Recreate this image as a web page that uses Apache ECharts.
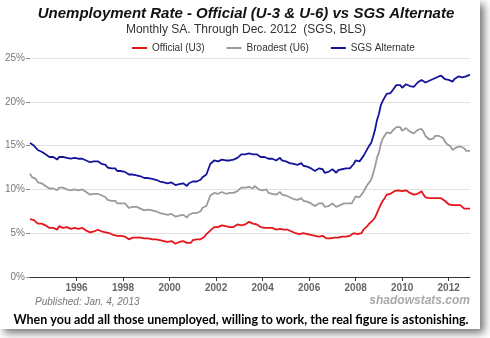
<!DOCTYPE html>
<html>
<head>
<meta charset="utf-8">
<script src="https://cdn.jsdelivr.net/npm/echarts@6/dist/echarts.min.js"></script>
<style>
html,body{margin:0;padding:0;background:#fff;}
#c{width:490px;height:338px;}
</style>
</head>
<body>
<div id="c"></div>
<script>
// Years covered (monthly data, Jan 1994 - Dec 2012)
const years = [1994,1995,1996,1997,1998,1999,2000,2001,2002,2003,2004,2005,2006,2007,2008,2009,2010,2011,2012];
const monthNames = ['01','02','03','04','05','06','07','08','09','10','11','12'];
const yTicks = [0,5,10,15,20,25];
const seriesNames = ['Official (U3)','Broadest (U6)','SGS Alternate'];

// Official (U3), % monthly SA
const u3 = [
 6.6,6.6,6.5,6.4,6.1,6.1,6.1,6.0,5.9,5.8,5.6,5.5,
 5.6,5.4,5.4,5.8,5.6,5.6,5.7,5.7,5.6,5.5,5.6,5.6,
 5.6,5.5,5.5,5.6,5.6,5.3,5.5,5.1,5.2,5.2,5.4,5.4,
 5.3,5.2,5.2,5.1,4.9,5.0,4.9,4.8,4.9,4.7,4.6,4.7,
 4.6,4.6,4.7,4.3,4.4,4.5,4.5,4.5,4.6,4.5,4.4,4.4,
 4.3,4.4,4.2,4.3,4.2,4.3,4.3,4.2,4.2,4.1,4.1,4.0,
 4.0,4.1,4.0,3.8,4.0,4.0,4.0,4.1,3.9,3.9,3.9,3.9,
 4.2,4.2,4.3,4.4,4.3,4.5,4.6,4.9,5.0,5.3,5.5,5.7,
 5.7,5.7,5.7,5.9,5.8,5.8,5.8,5.7,5.7,5.7,5.9,6.0,
 5.8,5.9,5.9,6.0,6.1,6.3,6.2,6.1,6.1,6.0,5.8,5.7,
 5.7,5.6,5.8,5.6,5.6,5.6,5.5,5.4,5.4,5.5,5.4,5.4,
 5.3,5.4,5.2,5.2,5.1,5.0,5.0,4.9,5.0,5.0,5.0,4.9,
 4.7,4.8,4.7,4.7,4.6,4.6,4.7,4.7,4.5,4.4,4.5,4.4,
 4.6,4.5,4.4,4.5,4.4,4.6,4.7,4.6,4.7,4.7,4.7,5.0,
 5.0,4.9,5.1,5.0,5.4,5.6,5.8,6.1,6.1,6.5,6.8,7.3,
 7.8,8.3,8.7,9.0,9.4,9.5,9.5,9.6,9.8,10.0,9.9,9.9,
 9.8,9.8,9.9,9.9,9.6,9.4,9.4,9.5,9.5,9.4,9.8,9.4,
 9.1,9.0,9.0,9.1,9.0,9.1,9.0,9.0,9.0,8.9,8.7,8.5,
 8.3,8.3,8.2,8.2,8.2,8.2,8.2,8.1,7.8,7.9,7.8,7.8
];

// Broadest (U6), % monthly SA
const u6 = [
 11.8,11.4,11.4,11.2,10.8,10.9,10.7,10.5,10.4,10.3,10.1,10.0,
 10.1,9.9,9.9,10.2,10.2,10.2,10.2,10.0,10.1,9.9,10.0,10.0,
 9.9,9.9,10.0,10.0,9.8,9.7,9.7,9.4,9.4,9.5,9.5,9.5,
 9.4,9.3,9.2,9.1,8.8,8.9,8.7,8.6,8.7,8.4,8.3,8.4,
 8.4,8.4,8.4,7.9,7.9,8.0,8.1,8.0,7.9,7.8,7.6,7.6,
 7.7,7.7,7.5,7.6,7.4,7.5,7.5,7.3,7.4,7.2,7.1,7.1,
 7.1,7.2,7.1,6.9,7.1,7.0,7.0,7.1,7.0,6.8,7.1,6.9,
 7.3,7.4,7.3,7.4,7.5,7.9,7.8,8.1,8.7,9.3,9.4,9.6,
 9.5,9.5,9.4,9.7,9.5,9.5,9.6,9.6,9.6,9.6,9.7,9.8,
 10.0,10.2,10.0,10.2,10.1,10.3,10.3,10.1,10.4,10.2,10.0,9.8,
 9.9,9.7,10.0,9.6,9.6,9.5,9.5,9.4,9.4,9.7,9.4,9.2,
 9.3,9.3,9.1,8.9,8.9,9.0,8.8,8.9,9.0,8.7,8.7,8.6,
 8.4,8.4,8.2,8.1,8.2,8.4,8.5,8.4,8.0,8.2,8.1,7.9,
 8.4,8.2,8.0,8.2,8.2,8.3,8.4,8.4,8.4,8.4,8.4,8.8,
 9.2,9.0,9.1,9.2,9.7,10.1,10.5,10.8,11.1,11.8,12.6,13.6,
 14.2,15.2,15.8,15.9,16.5,16.5,16.4,16.7,16.7,17.1,17.1,17.1,
 16.7,16.9,17.0,17.0,16.6,16.4,16.4,16.5,16.8,16.8,16.9,16.6,
 16.1,15.9,15.7,15.9,15.8,16.1,16.0,16.1,16.3,15.9,15.5,15.2,
 15.1,14.9,14.5,14.5,14.8,14.8,14.9,14.7,14.7,14.4,14.4,14.4
];

// SGS Alternate, % monthly
const sgs = [
 15.3,15.1,15.0,14.8,14.5,14.5,14.3,14.1,14.0,13.9,13.7,13.6,
 13.7,13.5,13.4,13.7,13.6,13.7,13.6,13.6,13.7,13.5,13.6,13.6,
 13.5,13.5,13.6,13.5,13.4,13.3,13.4,13.1,13.1,13.2,13.1,13.2,
 13.0,12.9,12.9,12.8,12.5,12.6,12.4,12.3,12.4,12.1,12.0,12.1,
 12.0,12.0,12.0,11.7,11.6,11.7,11.8,11.6,11.5,11.5,11.3,11.3,
 11.3,11.3,11.1,11.2,11.0,11.1,11.1,10.9,11.0,10.8,10.7,10.7,
 10.7,10.8,10.7,10.5,10.7,10.6,10.6,10.7,10.6,10.4,10.7,10.5,
 10.9,11.0,10.9,11.0,11.1,11.4,11.4,11.7,12.3,12.9,13.1,13.3,
 13.2,13.2,13.1,13.4,13.2,13.3,13.3,13.3,13.3,13.4,13.5,13.6,
 13.8,14.0,13.8,14.0,13.9,14.1,14.1,14.0,14.2,14.0,13.9,13.7,
 13.8,13.7,13.9,13.5,13.5,13.5,13.4,13.3,13.3,13.6,13.3,13.1,
 13.2,13.2,13.0,12.9,12.9,13.0,12.8,12.9,13.0,12.7,12.6,12.6,
 12.4,12.4,12.2,12.1,12.2,12.4,12.5,12.3,11.9,12.1,12.0,11.8,
 12.3,12.1,11.9,12.2,12.2,12.3,12.4,12.4,12.4,12.4,12.5,12.9,
 13.3,13.1,13.2,13.3,13.8,14.2,14.6,15.0,15.3,16.0,16.8,17.9,
 18.6,19.6,20.1,20.3,20.9,21.0,21.0,21.3,21.4,21.9,22.0,21.9,
 21.6,21.8,22.0,22.1,21.8,21.6,21.7,21.9,22.2,22.3,22.5,22.3,
 22.2,22.3,22.4,22.6,22.6,22.8,22.8,23.0,23.0,22.8,22.6,22.6,
 22.5,22.6,22.3,22.6,22.8,22.9,22.9,22.8,22.9,22.9,23.0,23.1
];

const categories = [];
years.forEach(y => monthNames.forEach(m => categories.push(y + '-' + m)));

function isLabelMonth(idx) {
  const c = categories[idx];
  const y = parseInt(c.slice(0,4), 10);
  return c.slice(5) === '01' && y >= 1996 && y % 2 === 0;
}

const chart = echarts.init(document.getElementById('c'), null, {renderer:'canvas'});
chart.setOption({
  animation: false,
  backgroundColor: 'transparent',
  title: {
    text: 'Unemployment Rate - Official (U-3 & U-6) vs SGS Alternate',
    subtext: 'Monthly SA. Through Dec. 2012  (SGS, BLS)',
    left: 241, top: 1, textAlign: 'center', itemGap: 3,
    textStyle: {fontFamily:'Liberation Sans, Arial', fontSize:15, fontWeight:'bold', fontStyle:'italic', color:'#111'},
    subtextStyle: {fontFamily:'Liberation Sans, Arial', fontSize:12, color:'#333'}
  },
  legend: {
    left: 127, top: 38,
    itemWidth: 15, itemHeight: 2, itemGap: 22,
    icon: 'rect',
    textStyle: {fontFamily:'Liberation Sans, Arial', fontSize:10, color:'#333'},
    data: seriesNames
  },
  grid: {left: 30, right: 20, top: 58, bottom: 61, containLabel: false},
  xAxis: {
    type: 'category', data: categories, boundaryGap: false,
    axisLine: {lineStyle: {color:'#333', width:1}},
    axisTick: {interval: (i) => isLabelMonth(i), length: 4, lineStyle:{color:'#333'}},
    axisLabel: {
      interval: (i) => isLabelMonth(i),
      formatter: (v) => v.slice(0,4),
      fontFamily:'Liberation Sans, Arial', fontSize:10, fontWeight:'bold', color:'#666', margin: 6
    },
    splitLine: {show:false}
  },
  yAxis: {
    type: 'value', min: yTicks[0], max: yTicks[yTicks.length-1], interval: 5,
    axisLine: {show:false},
    axisTick: {show:true, length:4, lineStyle:{color:'#888'}},
    axisLabel: {formatter: '{value}%', fontFamily:'Liberation Sans, Arial', fontSize:10, color:'#777', margin: 5},
    splitLine: {lineStyle: {color:'#e2e2e2', width:1}}
  },
  series: [
    {name: seriesNames[0], type:'line', data:u3, showSymbol:false, symbol:'none', color:'#e8141b', lineStyle:{width:1.8}},
    {name: seriesNames[1], type:'line', data:u6, showSymbol:false, symbol:'none', color:'#9b9b9b', lineStyle:{width:1.8}},
    {name: seriesNames[2], type:'line', data:sgs, showSymbol:false, symbol:'none', color:'#14149a', lineStyle:{width:1.8}}
  ],
  graphic: [
    {type:'rect', z:-10, silent:true, shape:{x:0,y:0,width:480,height:329},
     style:{fill:'#fff', shadowBlur:8, shadowOffsetX:4, shadowOffsetY:4, shadowColor:'rgba(0,0,0,0.55)'}},
    {type:'text', x:35, y:302, silent:true,
     style:{text:'Published: Jan. 4, 2013', font:'italic 10px "Liberation Sans", Arial', fill:'#777', textVerticalAlign:'middle'}},
    {type:'text', x:470, y:301, silent:true,
     style:{text:'shadowstats.com', font:'italic bold 12px "Liberation Sans", Arial', fill:'#aaa', textAlign:'right', textVerticalAlign:'middle'}},
    {type:'text', x:241, y:320, silent:true,
     style:{text:'When you add all those unemployed, willing to work, the real figure is astonishing.', font:'bold 12.5px Lato', fill:'#000', textAlign:'center', textVerticalAlign:'middle'}}
  ]
});
</script>
</body>
</html>
